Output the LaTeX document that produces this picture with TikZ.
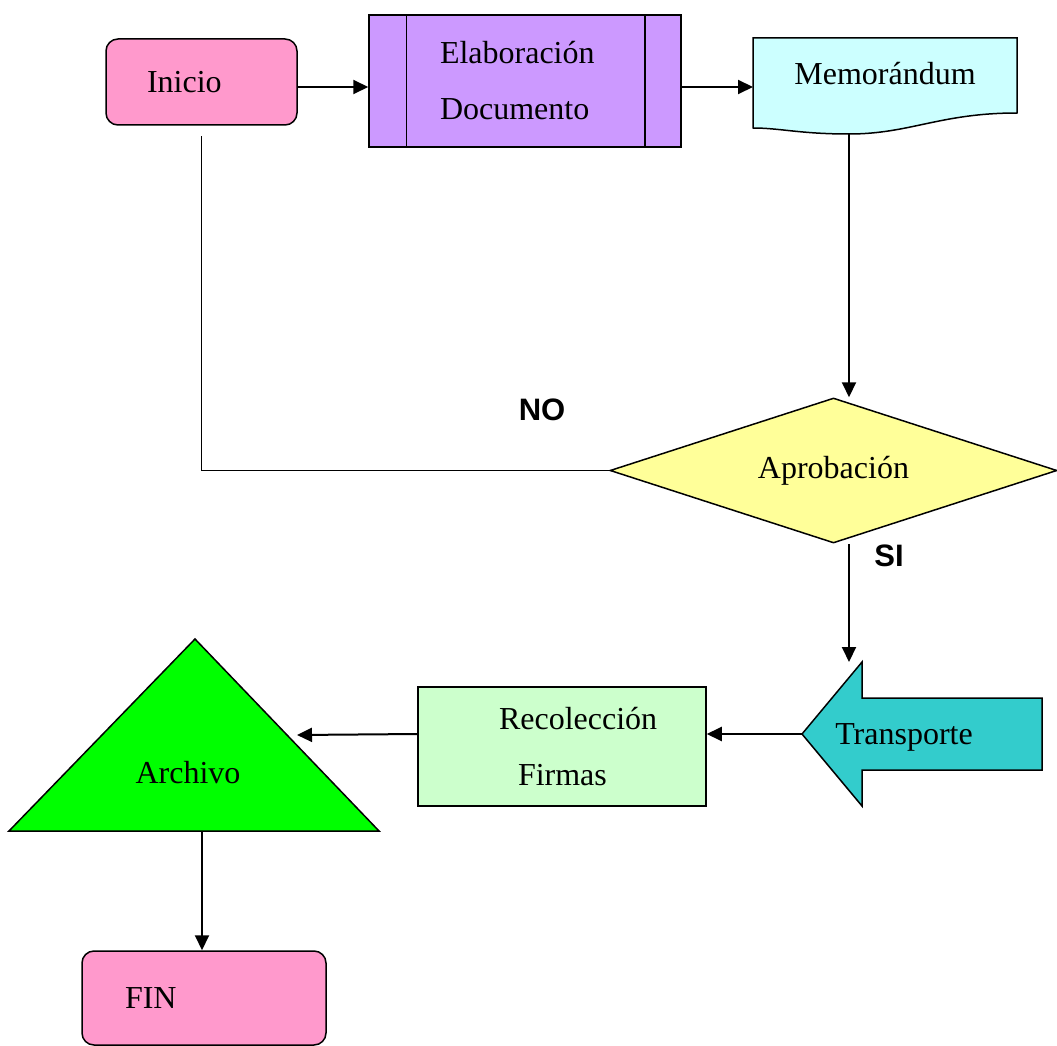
\documentclass[tikz,border=0pt]{standalone}
\usepackage{fontspec}
\setmainfont{Liberation Serif}
\setsansfont{Liberation Sans}
\usepackage{xcolor}
\usepackage{tikz}
\usetikzlibrary{shapes,arrows.meta}
\definecolor{startfill}{HTML}{FF99CC}
\definecolor{elabfill}{HTML}{CC99FF}
\definecolor{memofill}{HTML}{CCFFFF}
\definecolor{decisionfill}{HTML}{FFFF99}
\definecolor{transpfill}{HTML}{33CCCC}
\definecolor{recolfill}{HTML}{CCFFCC}
\definecolor{archfill}{HTML}{00FF00}
\tikzset{
	terminal/.style = {
		draw, rectangle, rounded corners=12pt, fill=startfill, inner sep=0pt, align=left
	}
}
\tikzset{
	process/.style = {
		draw, rectangle, inner sep=0pt, align=left
	}
}
\tikzset{
	decision/.style = {
		draw, diamond, aspect=3, fill=decisionfill, inner sep=0pt, minimum width=447pt, minimum height=145pt
	}
}
\tikzset{
	flow/.style = {
		line width=2pt, -{Triangle[length=15pt,width=14pt]}
	}
}
\tikzset{
	link/.style = {
		line width=1.5pt
	}
}
\tikzset{
	answer/.style = {
		font=\sffamily\bfseries\fontsize{31}{36}\selectfont
	}
}

\begin{document}
\begin{tikzpicture}[x=1pt, y=-1pt, line width=1.5pt, font=\fontsize{32}{56}\selectfont]
	\useasboundingbox (0,0) rectangle (1057,1046);
	\node[terminal, text width=191pt, minimum height=86pt](Inicio) at (201.5,82){\hspace*{41pt}Inicio};
	\node[process, fill=elabfill, text width=312pt, minimum height=132pt](Elaboracion) at (525,81){\hspace*{71pt}Elaboración\\
		\hspace*{71pt}Documento};
	\draw ([xshift=38pt]Elaboracion.north west) -- ([xshift=38pt]Elaboracion.south west);
	\draw ([xshift=-37pt]Elaboracion.north east) -- ([xshift=-37pt]Elaboracion.south east);
	\draw[fill=memofill] (753,38) -- (1017,38) -- (1017,113) .. controls (940,113) and (910,134) .. (849,134) .. controls (800,134) and (780,128) .. (753,128) -- cycle;
	\node(Memorandum) at (885,74){Memorándum};
	\coordinate (MemoIn) at (753,87);
	\coordinate (MemoOut) at (849,134);
	\draw[flow] (Inicio.east |- MemoIn) -- (Elaboracion.west |- MemoIn);
	\draw[flow] (Elaboracion.east |- MemoIn) -- (MemoIn);
	\node[decision](Aprobacion) at (833.5,470.5){Aprobación};
	\draw[flow] (MemoOut) -- (MemoOut |- Aprobacion.north);
	\draw[link] (Aprobacion.west) -| ([yshift=-10pt]Inicio.south);
	\node[answer](No) at (542,410){NO};
	\node[answer](Si) at (889,556){SI};
	\draw[fill=transpfill] (802,734) -- (862,662) -- (862,698) -- (1042,698) -- (1042,770) -- (862,770) -- (862,806) -- cycle;
	\coordinate (TranspTip) at (802,734);
	\coordinate (TranspTop) at (862,662);
	\node(Transporte) at (904,737){Transporte};
	\draw[flow] (MemoOut |- Aprobacion.south) -- (MemoOut |- TranspTop);
	\node[process, fill=recolfill, text width=288pt, minimum height=119pt](Recoleccion) at (562,746.5){\hspace*{81pt}Recolección\\
		\hspace*{100pt}Firmas};
	\draw[flow] (TranspTip) -- (Recoleccion.east |- TranspTip);
	\draw[fill=archfill] (195,639) -- (379,831) -- (9,831) -- cycle;
	\node(Archivo) at (188,773){Archivo};
	\coordinate (ArchSide) at (297,735);
	\coordinate (ArchBase) at (202,831);
	\draw[flow] (Recoleccion.west |- TranspTip) -- (ArchSide);
	\node[terminal, text width=244pt, minimum height=94pt](Fin) at (204,998){\hspace*{43pt}FIN};
	\draw[flow] (ArchBase) -- (ArchBase |- Fin.north);
\end{tikzpicture}
\end{document}
